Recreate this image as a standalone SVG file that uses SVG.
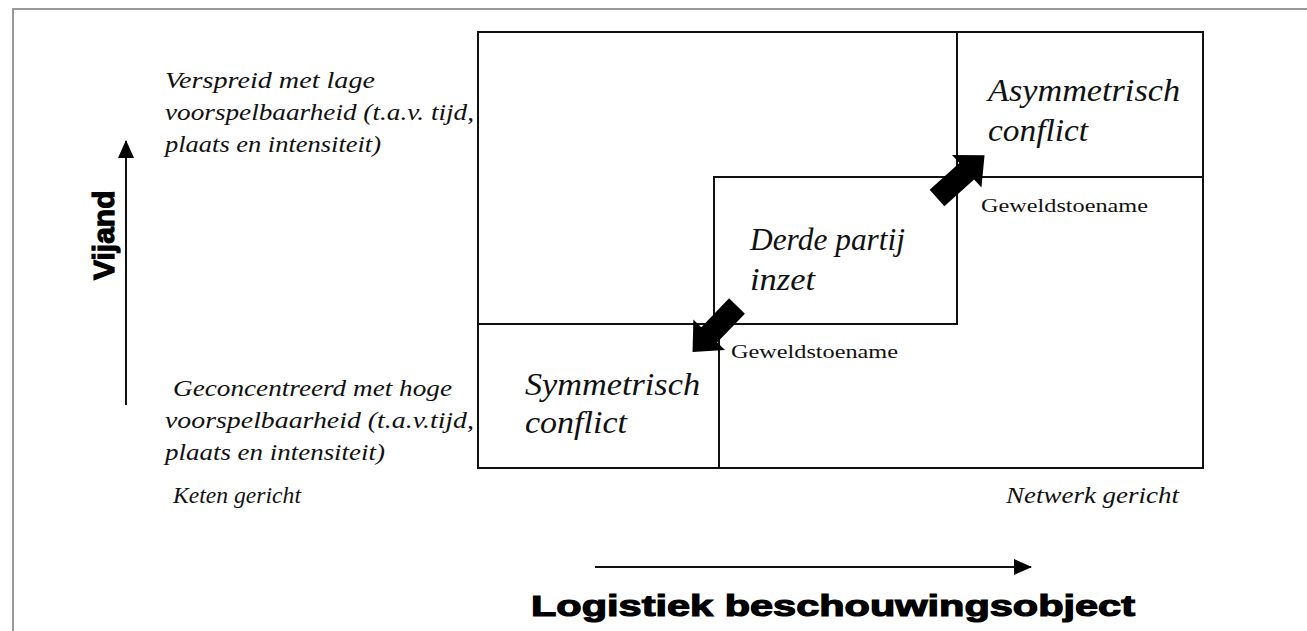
<svg xmlns="http://www.w3.org/2000/svg" width="1307" height="631" viewBox="0 0 1307 631">
  <style>
    .frame { fill: none; stroke: #9a9a9a; stroke-width: 2; }
    .box { fill: none; stroke: #111; stroke-width: 2; }
    .axis { fill: none; stroke: #111; stroke-width: 2; }
    .note { font-family: "Liberation Serif", serif; font-style: italic; font-size: 23px; fill: #111; }
    .title { font-family: "Liberation Serif", serif; font-style: italic; font-size: 31px; fill: #111; }
    .tag { font-family: "Liberation Serif", serif; font-size: 19px; fill: #111; }
    .axislabel { font-family: "Liberation Sans", Arial, sans-serif; font-weight: bold; fill: #000; stroke: #000; stroke-width: 1.2; }
    .blockarrow { fill: #000; }
  </style>
  <defs>
    <marker id="head" viewBox="0 0 18 16" refX="17" refY="8" markerWidth="18" markerHeight="16" markerUnits="userSpaceOnUse" orient="auto">
      <path d="M0,0 L18,8 L0,16 Z" fill="#000"/>
    </marker>
    <!-- thick block arrow along +x, tail at origin -->
    <polygon id="block" points="0,-11 40,-11 40,-22 64,0 40,22 40,11 0,11"/>
  </defs>

  <rect width="1307" height="631" fill="#fff"/>
  <rect class="frame" x="13" y="9" width="1400" height="700"/>

  <!-- outer field -->
  <g id="field">
    <rect class="box" x="478" y="32" width="725" height="436"/>
  </g>

  <g id="asymmetrisch">
    <path class="box" d="M957,32 V177 H1203"/>
    <text class="title" x="988" y="101" textLength="192" lengthAdjust="spacingAndGlyphs">Asymmetrisch</text>
    <text class="title" x="988" y="141" textLength="100" lengthAdjust="spacingAndGlyphs">conflict</text>
  </g>

  <g id="derde-partij">
    <path class="box" d="M957,177 H714 V324 H957 V177"/>
    <text class="title" x="750" y="250" textLength="155" lengthAdjust="spacingAndGlyphs">Derde partij</text>
    <text class="title" x="750" y="290" textLength="65" lengthAdjust="spacingAndGlyphs">inzet</text>
  </g>

  <g id="symmetrisch">
    <path class="box" d="M478,324 H719 V468"/>
    <text class="title" x="525" y="395" textLength="175" lengthAdjust="spacingAndGlyphs">Symmetrisch</text>
    <text class="title" x="525" y="433" textLength="102" lengthAdjust="spacingAndGlyphs">conflict</text>
  </g>

  <g id="connectors">
    <use href="#block" class="blockarrow" transform="translate(937,198) rotate(-42)"/>
    <use href="#block" class="blockarrow" transform="translate(737,306) rotate(134)"/>
    <line class="axis" x1="126" y1="405" x2="126" y2="141" marker-end="url(#head)"/>
    <line class="axis" x1="595" y1="567" x2="1031" y2="567" marker-end="url(#head)"/>
  </g>

  <g id="labels">
    <text class="tag" x="981" y="212" textLength="167" lengthAdjust="spacingAndGlyphs">Geweldstoename</text>
    <text class="tag" x="731" y="358" textLength="167" lengthAdjust="spacingAndGlyphs">Geweldstoename</text>

    <text class="note" x="165" y="88" textLength="210" lengthAdjust="spacingAndGlyphs">Verspreid met lage</text>
    <text class="note" x="165" y="120" textLength="309" lengthAdjust="spacingAndGlyphs">voorspelbaarheid (t.a.v. tijd,</text>
    <text class="note" x="165" y="152" textLength="216" lengthAdjust="spacingAndGlyphs">plaats en intensiteit)</text>

    <text class="note" x="173" y="396" textLength="279" lengthAdjust="spacingAndGlyphs">Geconcentreerd met hoge</text>
    <text class="note" x="165" y="428" textLength="309" lengthAdjust="spacingAndGlyphs">voorspelbaarheid (t.a.v.tijd,</text>
    <text class="note" x="165" y="460" textLength="220" lengthAdjust="spacingAndGlyphs">plaats en intensiteit)</text>

    <text class="note" x="173" y="503" textLength="128" lengthAdjust="spacingAndGlyphs">Keten gericht</text>
    <text class="note" x="1006" y="503" textLength="173" lengthAdjust="spacingAndGlyphs">Netwerk gericht</text>

    <text class="axislabel" font-size="30" transform="translate(114,280) rotate(-90)">Vijand</text>
    <text class="axislabel" font-size="30" x="531" y="616" textLength="604" lengthAdjust="spacingAndGlyphs">Logistiek beschouwingsobject</text>
  </g>
</svg>
